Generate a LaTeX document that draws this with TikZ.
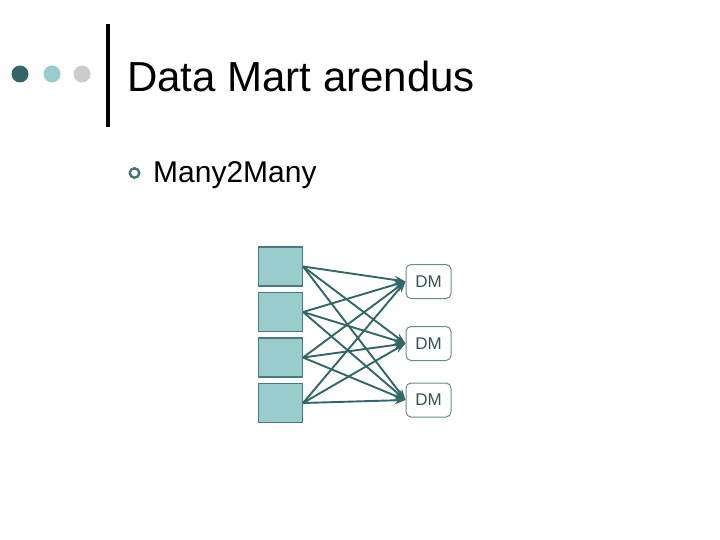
\documentclass[tikz,border=0pt]{standalone}
\usepackage{fontspec}
\setmainfont{Liberation Sans}
\usetikzlibrary{arrows.meta}
\definecolor{dteal}{HTML}{336666}
\definecolor{lteal}{HTML}{99CCCC}
\definecolor{lgrey}{HTML}{CCCCCC}
\definecolor{boxedge}{HTML}{4A7A7A}
\definecolor{dmedge}{HTML}{6A8A8A}
\begin{document}
\begin{tikzpicture}[x=1pt,y=-1pt,
  dot/.style={circle, inner sep=0pt, minimum size=17pt},
  src/.style={draw=boxedge, fill=lteal, line width=1.1pt, minimum width=44pt, minimum height=39pt, inner sep=0pt},
  dm/.style={draw=dmedge, line width=1pt, rounded corners=5pt, fill=white, minimum width=45pt, minimum height=34pt, inner sep=0pt, font=\fontsize{17}{20}\selectfont, text=dteal!85!black},
  link/.style={draw=dteal, line width=1.9pt, -{Stealth[length=11pt,width=8pt]}},
  title/.style={anchor=base west, inner sep=0pt, font=\fontsize{42}{48}\selectfont},
  item/.style={anchor=base west, inner sep=0pt, font=\fontsize{30}{36}\selectfont}]
\useasboundingbox (0,0) rectangle (720,540);
% header decoration
\node[dot, fill=dteal] (c1) at (20,74) {};
\node[dot, fill=lteal] (c2) at (52,74) {};
\node[dot, fill=lgrey] (c3) at (82,74) {};
\coordinate (bt) at (108,24);
\coordinate (bb) at (108,127);
\draw[black, line width=4pt] (bt) -- (bb);
\node[title] (t) at (127,92) {Data Mart arendus};
% bullet
\node[circle, draw=dteal!90, line width=2.4pt, inner sep=0pt, minimum size=9.5pt] (b1) at (134.5,173) {};
\node[item] (m) at (153,183) {Many2Many};
% sources
\node[src] (s1) at (280.5,266.5) {};
\node[src] (s2) at (280.5,312) {};
\node[src] (s3) at (280.5,357.5) {};
\node[src] (s4) at (280.5,403) {};
% data marts
\node[dm] (d1) at (428.5,281.5) {DM};
\node[dm] (d2) at (428.5,343.5) {DM};
\node[dm] (d3) at (428.5,400) {DM};
% links
\foreach \s in {s1,s2,s3,s4}{
  \foreach \d in {d1,d2,d3}{
    \draw[link] (\s.east) -- (\d.west);
  }
}
\end{tikzpicture}
\end{document}
